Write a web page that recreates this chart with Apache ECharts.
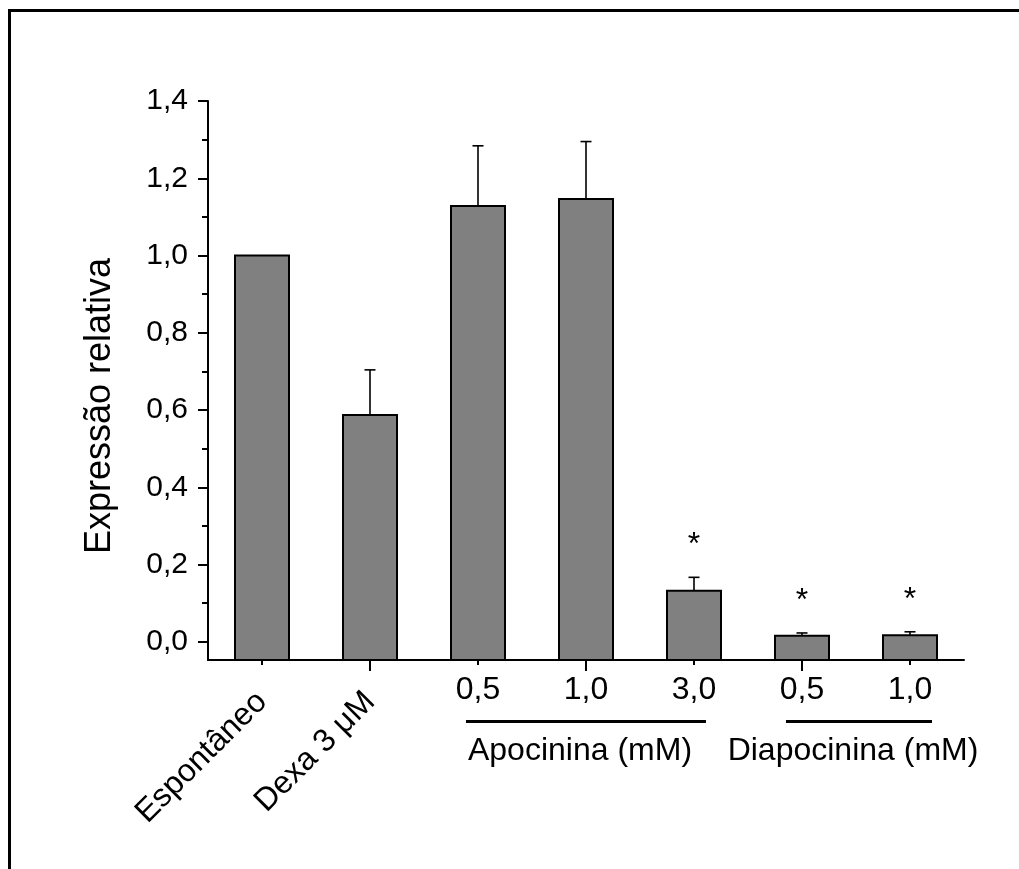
<!DOCTYPE html>
<html>
<head>
<meta charset="utf-8">
<title>Expressão relativa</title>
<script src="https://cdn.jsdelivr.net/npm/echarts@6/dist/echarts.min.js"></script>
<style>
  html, body { margin: 0; padding: 0; background: #fff; }
  #chart { width: 1019px; height: 869px; }
</style>
</head>
<body>
<div id="chart"></div>
<script>
// Categories along the x axis and their displayed labels
const categories = ['Espontâneo', 'Dexa 3 μM', 'Apo 0,5', 'Apo 1,0', 'Apo 3,0', 'Diapo 0,5', 'Diapo 1,0'];
const tickLabels = ['Espontâneo', 'Dexa 3 μM', '0,5', '1,0', '3,0', '0,5', '1,0'];
// Mean relative expression and upper error (SEM)
const means = [1.0, 0.587, 1.128, 1.146, 0.132, 0.016, 0.017];
const errors = [0, 0.117, 0.156, 0.149, 0.035, 0.007, 0.009];
// Significance marks
const significant = [false, false, false, false, true, true, true];
// Y axis ticks
const yMajorTicks = [0, 0.2, 0.4, 0.6, 0.8, 1.0, 1.2, 1.4];
const yMinorTicks = [0.1, 0.3, 0.5, 0.7, 0.9, 1.1, 1.3];

const FONT = 'Arial, "Liberation Sans", Helvetica, sans-serif';
const Y_MIN = -0.047;
const Y_MAX = 1.4;

const chart = echarts.init(document.getElementById('chart'), null, { renderer: 'canvas' });

const barData = categories.map((c, i) => [i, means[i], errors[i], significant[i] ? 1 : 0]);

// Bars start at the bottom of the axis; error bars go upward only
function renderBar(params, api) {
  const idx = api.value(0);
  const v = api.value(1);
  const e = api.value(2);
  const sig = api.value(3);
  const base = api.coord([idx, Y_MIN]);
  const top = api.coord([idx, v]);
  const errTop = api.coord([idx, v + e]);
  const w = 54;
  const children = [{
    type: 'rect',
    shape: { x: top[0] - w / 2, y: top[1], width: w, height: base[1] - top[1] },
    style: { fill: '#808080', stroke: '#000', lineWidth: 2 }
  }];
  if (e > 0) {
    children.push({
      type: 'line',
      shape: { x1: top[0], y1: top[1], x2: errTop[0], y2: errTop[1] },
      style: { stroke: '#000', lineWidth: 1.6 }
    });
    children.push({
      type: 'line',
      shape: { x1: errTop[0] - 5.5, y1: errTop[1], x2: errTop[0] + 5.5, y2: errTop[1] },
      style: { stroke: '#000', lineWidth: 1.6 }
    });
  }
  if (sig) {
    children.push({
      type: 'text',
      x: errTop[0],
      y: errTop[1] - 32,
      style: {
        text: '*', fill: '#000', font: '32px ' + FONT,
        align: 'center', verticalAlign: 'middle'
      }
    });
  }
  return { type: 'group', children: children };
}

const option = {
  backgroundColor: '#fff',
  animation: false,
  grid: { left: 208, right: 55, top: 101, bottom: 209, containLabel: false },
  xAxis: [
    {
      type: 'category',
      position: 'bottom',
      data: categories,
      axisLine: { show: true, onZero: false, lineStyle: { color: '#000', width: 2 } },
      axisTick: { show: true, alignWithLabel: true, interval: 0, length: 5, lineStyle: { color: '#000', width: 2 } },
      axisLabel: {
        interval: 0, rotate: 45, margin: 37,
        fontSize: 32, fontFamily: FONT, color: '#000',
        formatter: (val, i) => (i < 2 ? tickLabels[i] : '')
      },
      splitLine: { show: false }
    },
    {
      type: 'category',
      position: 'bottom',
      data: categories,
      axisLine: { show: false, onZero: false },
      axisTick: { show: true, alignWithLabel: true, interval: (i) => i % 2 === 1, length: 11, lineStyle: { color: '#000', width: 2 } },
      axisLabel: {
        interval: 0, margin: 14,
        fontSize: 32, fontFamily: FONT, color: '#000',
        formatter: (val, i) => (i >= 2 ? tickLabels[i] : '')
      },
      splitLine: { show: false }
    }
  ],
  yAxis: [
    {
      type: 'value',
      position: 'left',
      min: Y_MIN, max: Y_MAX,
      axisLine: { show: true, lineStyle: { color: '#000', width: 2 } },
      axisTick: { show: true, length: 10, customValues: yMajorTicks, lineStyle: { color: '#000', width: 2 } },
      axisLabel: {
        customValues: yMajorTicks, margin: 20,
        fontSize: 30, fontFamily: FONT, color: '#000',
        formatter: (v) => v.toFixed(1).replace('.', ',')
      },
      splitLine: { show: false }
    },
    {
      type: 'value',
      position: 'left',
      min: Y_MIN, max: Y_MAX,
      axisLine: { show: false },
      axisTick: { show: true, length: 6, customValues: yMinorTicks, lineStyle: { color: '#000', width: 2 } },
      axisLabel: { show: false },
      splitLine: { show: false }
    }
  ],
  graphic: [
    // Outer frame
    { type: 'rect', shape: { x: 9.5, y: 10.5, width: 1200, height: 1000 },
      style: { fill: null, stroke: '#000', lineWidth: 3 }, silent: true },
    // Y axis title
    { type: 'text', x: 100, y: 406, rotation: Math.PI / 2,
      style: { text: 'Expressão relativa', font: '36px ' + FONT, fill: '#000', align: 'center', verticalAlign: 'middle' } },
    // Group brackets under the concentrations
    { type: 'line', shape: { x1: 466, y1: 721.5, x2: 706, y2: 721.5 }, style: { stroke: '#000', lineWidth: 3 } },
    { type: 'line', shape: { x1: 786, y1: 721.5, x2: 932, y2: 721.5 }, style: { stroke: '#000', lineWidth: 3 } },
    { type: 'text', x: 580, y: 751,
      style: { text: 'Apocinina (mM)', font: '32px ' + FONT, fill: '#000', align: 'center', verticalAlign: 'middle' } },
    { type: 'text', x: 853, y: 751,
      style: { text: 'Diapocinina (mM)', font: '32px ' + FONT, fill: '#000', align: 'center', verticalAlign: 'middle' } }
  ],
  series: [
    {
      type: 'custom',
      xAxisIndex: 0,
      yAxisIndex: 0,
      renderItem: renderBar,
      encode: { x: 0, y: 1 },
      data: barData,
      clip: false
    }
  ]
};

chart.setOption(option);
</script>
</body>
</html>
